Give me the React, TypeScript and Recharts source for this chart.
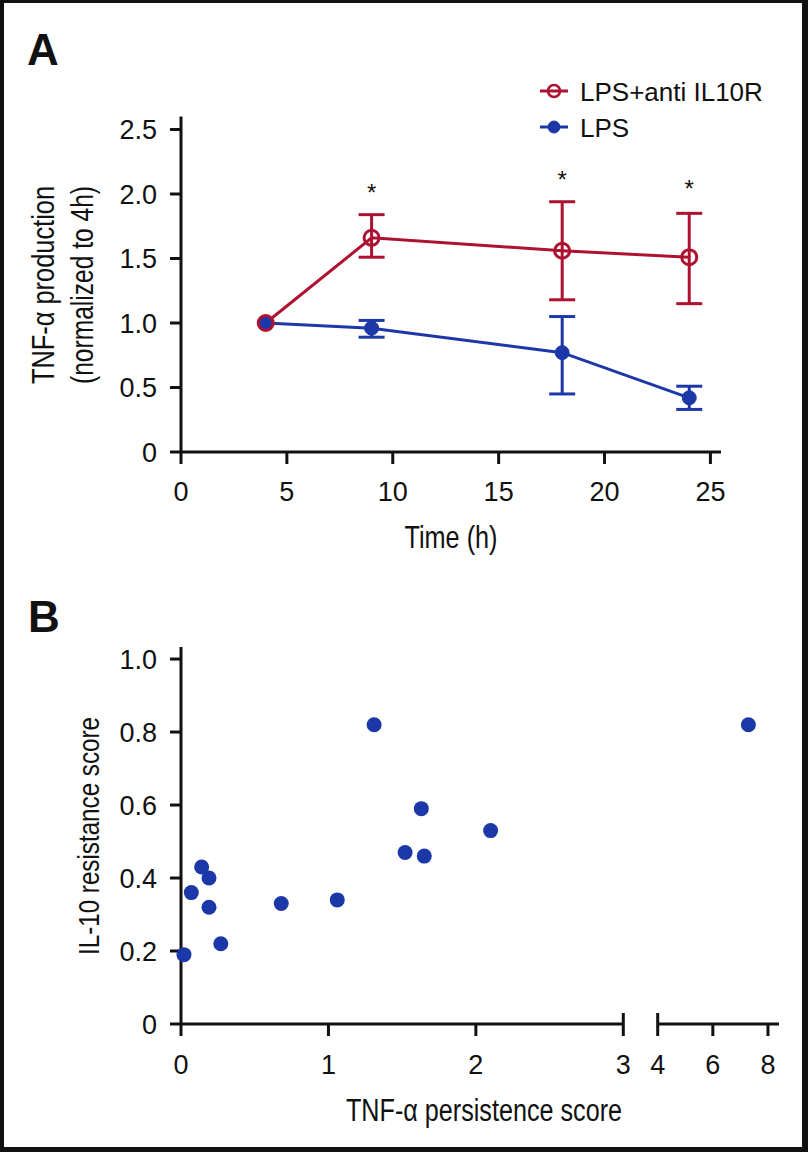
import {
  ComposedChart,
  Line,
  ErrorBar,
  Scatter,
  ScatterChart,
  XAxis,
  YAxis,
  Legend,
} from 'recharts';

const RED = '#ad1230';
const BLUE = '#1c38a8';
const INK = '#111111';
const SANS = '"Liberation Sans", Arial, Helvetica, sans-serif';

// Panel A - TNF-a production, normalized to the 4h value
const hours = [4, 9, 18, 24];
const antiMean = [1.0, 1.66, 1.56, 1.51];
const antiLow = [null, 0.15, 0.38, 0.36];
const antiHigh = [null, 0.18, 0.38, 0.34];
const lpsMean = [1.0, 0.96, 0.77, 0.42];
const lpsLow = [null, 0.07, 0.32, 0.09];
const lpsHigh = [null, 0.06, 0.28, 0.09];
const starHours = [9, 18, 24];
const starLevel = [2.05, 2.15, 2.08];
const hourTicks = [0, 5, 10, 15, 20, 25];
const productionTicks = [0, 0.5, 1.0, 1.5, 2.0, 2.5];

// Panel B - IL-10 resistance vs TNF-a persistence
const persistence = [0.02, 0.07, 0.14, 0.19, 0.19, 0.27, 0.68, 1.06, 1.31, 1.52, 1.63, 1.65, 2.1, 7.29];
const resistance = [0.19, 0.36, 0.43, 0.4, 0.32, 0.22, 0.33, 0.34, 0.82, 0.47, 0.59, 0.46, 0.53, 0.82];
const resistanceTicks = [0, 0.2, 0.4, 0.6, 0.8, 1.0];
const lowScoreTicks = [0, 1, 2, 3];
const highScoreTicks = [4, 6, 8];

const errPair = (lo: number | null, hi: number | null) => (lo == null ? null : [lo, hi]);

const timeData = hours.map((t, i) => ({
  t,
  anti: antiMean[i],
  antiErr: errPair(antiLow[i], antiHigh[i]),
  lps: lpsMean[i],
  lpsErr: errPair(lpsLow[i], lpsHigh[i]),
}));
const starData = starHours.map((t, i) => ({ t, star: starLevel[i] }));

const scorePoints = persistence.map((x, i) => ({ x, y: resistance[i] }));
const lowPoints = scorePoints.filter((p) => p.x <= 3);
const highPoints = scorePoints.filter((p) => p.x >= 4);

const axisLine = { stroke: INK, strokeWidth: 3 };
const tickStyle = { fontSize: 27, fill: INK, fontFamily: SANS };
const fmt1 = (v: number) => (v === 0 ? '0' : v.toFixed(1));

const B_TICK_LEN = 12;
const B_TICK_GAP = 19;

// x ticks for the broken axis: the ticks at the break cross the axis line
const brokenTick = (breaks: number[]) => (props: any) => {
  const { x, y, payload } = props;
  const axisY = y - B_TICK_LEN - B_TICK_GAP;
  const top = breaks.includes(payload.value) ? axisY - 11 : axisY;
  return (
    <g>
      <line x1={x} x2={x} y1={top} y2={axisY + B_TICK_LEN} stroke={INK} strokeWidth={3} />
      <text x={x} y={y} dy="0.71em" textAnchor="middle" fontSize={27} fontFamily={SANS} fill={INK}>
        {payload.value}
      </text>
    </g>
  );
};

const renderStar = (p: any) => (
  <text x={p.cx} y={p.cy + 13} textAnchor="middle" fontSize={24} fontFamily={SANS} fill={INK}>
    *
  </text>
);

const renderDot = (p: any) => <circle cx={p.cx} cy={p.cy} r={7.5} fill={BLUE} />;

const renderLegend = (props: any) => {
  const items = (props.payload || []).filter((it: any) => it.dataKey !== 'star').reverse();
  return (
    <svg width={255} height={70} style={{ overflow: 'visible' }}>
      {items.map((it: any, i: number) => {
        const y = 11 + i * 36;
        const open = it.dataKey === 'anti';
        return (
          <g key={it.value}>
            <line x1={0} x2={28} y1={y} y2={y} stroke={it.color} strokeWidth={3} />
            <circle
              cx={14}
              cy={y}
              r={6}
              fill={open ? 'none' : it.color}
              stroke={it.color}
              strokeWidth={open ? 2.5 : 1}
            />
            <text x={40} y={y + 10} fontSize={26} fontFamily={SANS} fill={INK}>
              {it.value}
            </text>
          </g>
        );
      })}
    </svg>
  );
};

// condensed-looking titles: regular sans squeezed to the measured length
const Title = ({ x, y, len, size, rotate, children }: any) => (
  <text
    transform={`translate(${x},${y})${rotate ? ' rotate(-90)' : ''}`}
    textAnchor="middle"
    fontSize={size}
    fontFamily={SANS}
    fill={INK}
    textLength={len}
    lengthAdjust="spacingAndGlyphs"
  >
    {children}
  </text>
);

export default function App() {
  return (
    <div style={{ position: 'absolute', left: 0, top: 0, width: 808, height: 1152, background: '#fff' }}>
      {/* A */}
      <div style={{ position: 'absolute', left: 0, top: 0 }}>
        <ComposedChart
          width={808}
          height={580}
          data={timeData}
          margin={{ top: 116.6, right: 87, bottom: 48, left: 101 }}
        >
          <XAxis
            type="number"
            dataKey="t"
            domain={[0, 25.5]}
            ticks={hourTicks}
            height={80}
            axisLine={axisLine}
            tickLine={axisLine}
            tickSize={12}
            tickMargin={18}
            tick={tickStyle}
          />
          <YAxis
            type="number"
            domain={[0, 2.6]}
            ticks={productionTicks}
            tickFormatter={fmt1}
            width={80}
            axisLine={axisLine}
            tickLine={axisLine}
            tickSize={11}
            tickMargin={13}
            tick={tickStyle}
          />
          <Legend
            layout="vertical"
            align="center"
            verticalAlign="middle"
            content={renderLegend}
            wrapperStyle={{ position: 'absolute', left: 540, top: 80, width: 255, height: 70 }}
          />
          <Line
            dataKey="lps"
            name="LPS"
            stroke={BLUE}
            strokeWidth={3}
            dot={{ r: 7, fill: BLUE, stroke: BLUE, strokeWidth: 1 }}
            activeDot={false}
            isAnimationActive={false}
          >
            <ErrorBar dataKey="lpsErr" direction="y" width={13} strokeWidth={3} stroke={BLUE} />
          </Line>
          <Line
            dataKey="anti"
            name="LPS+anti IL10R"
            stroke={RED}
            strokeWidth={3}
            dot={{ r: 7.5, fill: 'none', stroke: RED, strokeWidth: 3 }}
            activeDot={false}
            isAnimationActive={false}
          >
            <ErrorBar dataKey="antiErr" direction="y" width={13} strokeWidth={3} stroke={RED} />
          </Line>
          <Scatter
            data={starData}
            dataKey="star"
            legendType="none"
            shape={renderStar}
            isAnimationActive={false}
          />
        </ComposedChart>
      </div>

      {/* B, left part of the broken axis */}
      <div style={{ position: 'absolute', left: 0, top: 600 }}>
        <ScatterChart width={640} height={552} margin={{ top: 47, right: 16.7, bottom: 68, left: 101 }}>
          <XAxis
            type="number"
            dataKey="x"
            domain={[0, 3]}
            ticks={lowScoreTicks}
            height={60}
            axisLine={axisLine}
            tickLine={false}
            tickSize={B_TICK_LEN}
            tickMargin={B_TICK_GAP}
            tick={brokenTick([3])}
          />
          <YAxis
            type="number"
            dataKey="y"
            domain={[0, 1.033]}
            ticks={resistanceTicks}
            tickFormatter={fmt1}
            width={80}
            axisLine={axisLine}
            tickLine={axisLine}
            tickSize={11}
            tickMargin={13}
            tick={tickStyle}
          />
          <Scatter data={lowPoints} fill={BLUE} shape={renderDot} isAnimationActive={false} />
        </ScatterChart>
      </div>

      {/* B, right part of the broken axis */}
      <div style={{ position: 'absolute', left: 640, top: 600 }}>
        <ScatterChart width={168} height={552} margin={{ top: 47, right: 29, bottom: 68, left: 17.7 }}>
          <XAxis
            type="number"
            dataKey="x"
            domain={[4, 8.4]}
            ticks={highScoreTicks}
            height={60}
            axisLine={axisLine}
            tickLine={false}
            tickSize={B_TICK_LEN}
            tickMargin={B_TICK_GAP}
            tick={brokenTick([4])}
          />
          <YAxis type="number" dataKey="y" domain={[0, 1.033]} hide width={0} />
          <Scatter data={highPoints} fill={BLUE} shape={renderDot} isAnimationActive={false} />
        </ScatterChart>
      </div>

      {/* panel letters and axis titles */}
      <svg
        width={808}
        height={1152}
        style={{ position: 'absolute', left: 0, top: 0, pointerEvents: 'none' }}
      >
        <text x={27} y={65} fontSize={44} fontWeight="bold" fontFamily={SANS} fill={INK}>A</text>
        <text x={28} y={632} fontSize={44} fontWeight="bold" fontFamily={SANS} fill={INK}>B</text>
        <Title x={54} y={285} len={198} size={31} rotate>TNF-α production</Title>
        <Title x={93} y={285} len={198} size={31} rotate>(normalized to 4h)</Title>
        <Title x={451} y={548} len={93} size={32}>Time (h)</Title>
        <Title x={99} y={836} len={238} size={30} rotate>IL-10 resistance score</Title>
        <Title x={484} y={1121} len={276} size={31}>TNF-α persistence score</Title>
      </svg>

      <div
        style={{
          position: 'absolute',
          inset: 0,
          boxSizing: 'border-box',
          borderStyle: 'solid',
          borderColor: INK,
          borderWidth: '3px 6px 5px 4px',
          pointerEvents: 'none',
        }}
      />
    </div>
  );
}
